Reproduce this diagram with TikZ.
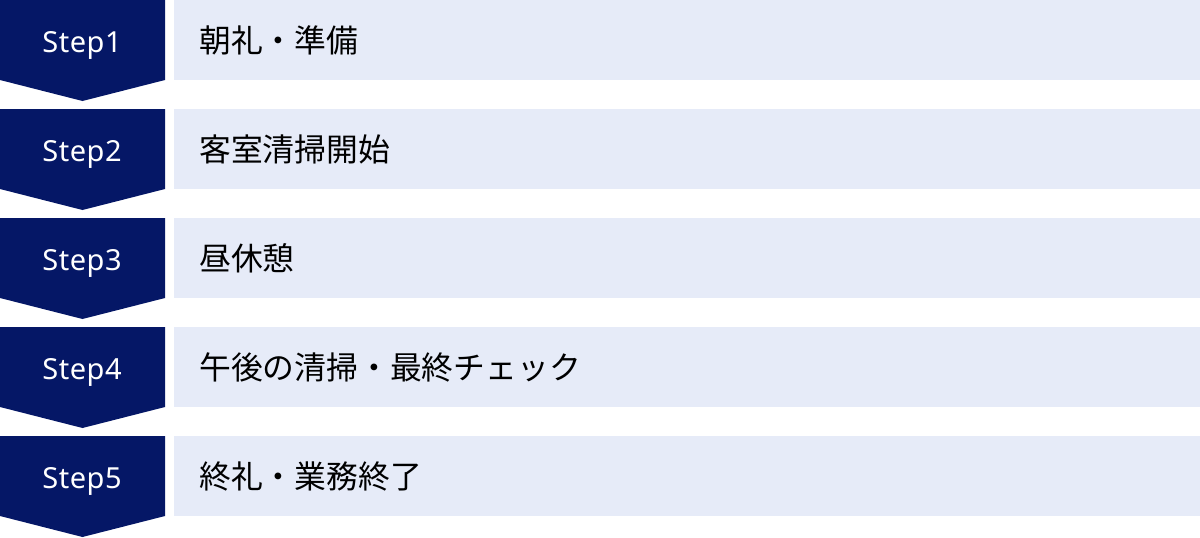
\documentclass[tikz,border=0pt]{standalone}
\usepackage{fontspec}
\newfontfamily\jp{Noto Sans CJK JP}
\newfontfamily\stepfont[LetterSpace=2]{Noto Sans}
\definecolor{navy}{HTML}{051766}
\definecolor{pale}{HTML}{E6EBF8}
\tikzset{
  chev/.style={fill=navy,draw=none},
  bar/.style={fill=pale,draw=none},
  steplabel/.style={text=white,font=\stepfont\fontsize{29}{34}\selectfont,anchor=base,inner sep=0pt},
  desc/.style={text=black,font=\jp\fontsize{31.8}{36}\selectfont,anchor=base west,inner sep=0pt}
}
\begin{document}
\begin{tikzpicture}[x=1pt,y=-1pt]
\useasboundingbox (0,0) rectangle (1200,538);
\foreach \i/\t in {0/朝礼・準備,1/客室清掃開始,2/昼休憩,3/午後の清掃・最終チェック,4/終礼・業務終了}{
  \pgfmathsetmacro\yy{\i*109}
  \pgfmathtruncatemacro\n{\i+1}
  \fill[chev] (0,\yy) -- (165,\yy) -- (165,\yy+80) -- (82.5,\yy+101) -- (0,\yy+80) -- cycle;
  \node[steplabel] (s\n) at (82,\yy+52) {Step\n};
  \fill[bar] (174,\yy) rectangle (1200,\yy+80);
  \node[desc] (d\n) at (199,\yy+52) {\t};
}
\end{tikzpicture}
\end{document}
